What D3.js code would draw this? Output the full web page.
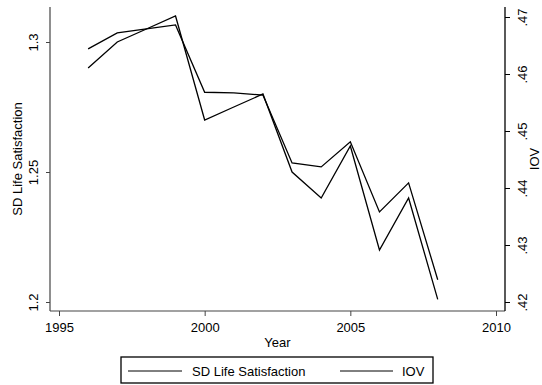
<!DOCTYPE html>
<html>
<head>
<meta charset="utf-8">
<script src="https://cdn.jsdelivr.net/npm/d3@7"></script>
<style>
  html, body { margin: 0; padding: 0; background: #fff; }
  svg { display: block; font-family: "Liberation Sans", Arial, Helvetica, sans-serif; }
</style>
</head>
<body>
<svg id="chart" width="542" height="385"></svg>
<script>
// Survey years
const years = [1996, 1997, 1998, 1999, 2000, 2001, 2002, 2003, 2004, 2005, 2006, 2007, 2008];
// Standard deviation of life satisfaction (left axis)
const sdLife = [1.290, 1.300, 1.305, 1.310, 1.270, 1.275, 1.280, 1.250, 1.240, 1.260, 1.220, 1.240, 1.201];
// IOV (right axis)
const iov = [0.4644, 0.4672, 0.4679, 0.4686, 0.4568, 0.4567, 0.4563, 0.4444, 0.4437, 0.4481, 0.4358, 0.4409, 0.4239];

const xTicks = [1995, 2000, 2005, 2010];
const leftTicks = [1.2, 1.25, 1.3];
const leftTickLabels = ["1.2", "1.25", "1.3"];
const rightTicks = [0.42, 0.43, 0.44, 0.45, 0.46, 0.47];
const rightTickLabels = [".42", ".43", ".44", ".45", ".46", ".47"];
const legendLabels = ["SD Life Satisfaction", "IOV"];

const svg = d3.select("#chart");

// plot region edges
const plot = { left: 50, right: 505, top: 7, bottom: 311 };

const x = d3.scaleLinear().domain([1995, 2010]).range([59, 496]);
const yL = d3.scaleLinear().domain([1.2, 1.3]).range([302, 42]);
const yR = d3.scaleLinear().domain([0.42, 0.47]).range([302, 17]);

const fontSize = 13;

// axis frame lines
svg.append("line")
  .attr("x1", plot.left).attr("x2", plot.left)
  .attr("y1", plot.top).attr("y2", plot.bottom)
  .attr("stroke", "#444").attr("stroke-width", 1.2);
svg.append("line")
  .attr("x1", plot.left).attr("x2", plot.right)
  .attr("y1", plot.bottom).attr("y2", plot.bottom)
  .attr("stroke", "#444").attr("stroke-width", 1.2);
svg.append("line")
  .attr("x1", plot.right).attr("x2", plot.right)
  .attr("y1", plot.top).attr("y2", plot.bottom)
  .attr("stroke", "#000").attr("stroke-width", 1.3);

// bottom axis
const gx = svg.append("g")
  .attr("transform", `translate(0,${plot.bottom})`)
  .call(d3.axisBottom(x).tickValues(xTicks).tickFormat(d3.format("d")).tickSize(5).tickPadding(7));
gx.select(".domain").remove();
gx.selectAll(".tick line").attr("stroke", "#444");
gx.selectAll(".tick text").attr("font-size", fontSize).attr("fill", "#000")
  .attr("font-family", "'Liberation Sans', Arial, sans-serif");

// left axis with rotated labels
const gl = svg.append("g")
  .attr("transform", `translate(${plot.left},0)`)
  .call(d3.axisLeft(yL).tickValues(leftTicks).tickFormat((d, i) => leftTickLabels[i]).tickSize(4));
gl.select(".domain").remove();
gl.selectAll(".tick line").attr("stroke", "#444");
gl.selectAll(".tick text")
  .attr("transform", "rotate(-90)")
  .attr("x", 0).attr("y", -12).attr("dy", null)
  .attr("text-anchor", "middle")
  .attr("font-size", fontSize).attr("fill", "#000")
  .attr("font-family", "'Liberation Sans', Arial, sans-serif");

// right axis with rotated labels
const gr = svg.append("g")
  .attr("transform", `translate(${plot.right},0)`)
  .call(d3.axisRight(yR).tickValues(rightTicks).tickFormat((d, i) => rightTickLabels[i]).tickSize(5));
gr.select(".domain").remove();
gr.selectAll(".tick line").attr("stroke", "#000");
gr.selectAll(".tick text")
  .attr("transform", "rotate(-90)")
  .attr("x", 0).attr("y", 22).attr("dy", null)
  .attr("text-anchor", "middle")
  .attr("font-size", fontSize).attr("fill", "#000")
  .attr("font-family", "'Liberation Sans', Arial, sans-serif");

// axis titles
svg.append("text")
  .attr("transform", `translate(22,${(plot.top + plot.bottom) / 2}) rotate(-90)`)
  .attr("text-anchor", "middle")
  .attr("font-size", fontSize)
  .text("SD Life Satisfaction");
svg.append("text")
  .attr("transform", `translate(539,${(plot.top + plot.bottom) / 2}) rotate(-90)`)
  .attr("text-anchor", "middle")
  .attr("font-size", fontSize)
  .text("IOV");
svg.append("text")
  .attr("x", (plot.left + plot.right) / 2)
  .attr("y", 347)
  .attr("text-anchor", "middle")
  .attr("font-size", fontSize)
  .text("Year");

// series lines
const lineL = d3.line().x((d, i) => x(years[i])).y(d => yL(d));
const lineR = d3.line().x((d, i) => x(years[i])).y(d => yR(d));

svg.append("path").datum(sdLife)
  .attr("d", lineL).attr("fill", "none")
  .attr("stroke", "#000").attr("stroke-width", 1.3)
  .attr("stroke-linejoin", "miter");
svg.append("path").datum(iov)
  .attr("d", lineR).attr("fill", "none")
  .attr("stroke", "#000").attr("stroke-width", 1.3)
  .attr("stroke-linejoin", "miter");

// legend
const lg = svg.append("g");
lg.append("rect")
  .attr("x", 121).attr("y", 357).attr("width", 312).attr("height", 26)
  .attr("fill", "#fff").attr("stroke", "#000").attr("stroke-width", 1.3);
const legendItems = [
  { x1: 128, x2: 182, tx: 192 },
  { x1: 340, x2: 393, tx: 402 }
];
legendItems.forEach((it, i) => {
  lg.append("line")
    .attr("x1", it.x1).attr("x2", it.x2).attr("y1", 371).attr("y2", 371)
    .attr("stroke", "#000").attr("stroke-width", 1);
  lg.append("text")
    .attr("x", it.tx).attr("y", 375.5)
    .attr("font-size", fontSize)
    .text(legendLabels[i]);
});
</script>
</body>
</html>
